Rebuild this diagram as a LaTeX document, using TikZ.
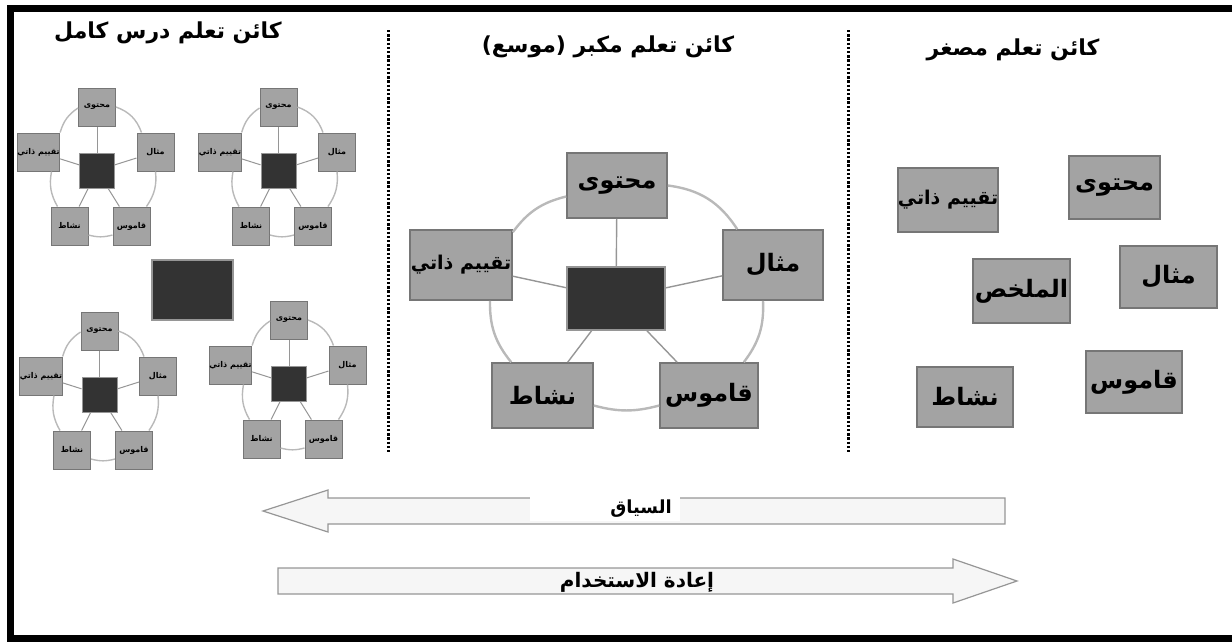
\documentclass[tikz,border=0pt]{standalone}
\usepackage{fontspec}
\TeXXeTstate=1
\newfontfamily\arabicfont[Script=Arabic]{DejaVu Sans}
\usetikzlibrary{calc}
\definecolor{boxgray}{RGB}{163,163,163}
\definecolor{boxedge}{RGB}{118,118,118}
\definecolor{darkbox}{RGB}{51,51,51}
\definecolor{ringgray}{RGB}{185,185,185}
\definecolor{spokegray}{RGB}{150,150,150}
\definecolor{arrowfill}{RGB}{246,246,246}
\definecolor{arrowedge}{RGB}{150,150,150}
\newcommand{\artx}[1]{\beginR #1\endR}
\tikzset{
  bigbox/.style={rectangle, fill=boxgray, draw=boxedge, line width=1.6pt, inner sep=0pt,
    font=\arabicfont\bfseries\fontsize{24}{26}\selectfont},
  smallerlabel/.style={font=\arabicfont\bfseries\fontsize{19}{22}\selectfont},
  bigdark/.style={rectangle, fill=darkbox, draw=spokegray, line width=1.6pt, minimum width=98pt, minimum height=63pt},
  ring/.style={draw=ringgray, line width=2.4pt},
  spoke/.style={draw=spokegray, line width=1.4pt},
  sbox/.style={rectangle, fill=boxgray, draw=boxedge, line width=1pt, inner sep=0pt,
    minimum width=37pt, minimum height=38pt, font=\arabicfont\bfseries\fontsize{8}{9}\selectfont},
  sdark/.style={rectangle, fill=darkbox, draw=spokegray, line width=1pt, minimum width=35pt, minimum height=35pt},
  sring/.style={draw=ringgray, line width=1.4pt},
  sspoke/.style={draw=spokegray, line width=1pt},
  titlefont/.style={font=\arabicfont\bfseries\fontsize{22}{25}\selectfont},
  arrowshape/.style={fill=arrowfill, draw=arrowedge, line width=1.2pt, line join=miter},
  arrowlabel/.style={font=\arabicfont\bfseries\fontsize{18}{20}\selectfont, inner sep=1pt},
  divider/.style={line width=3pt, dash pattern=on 2.4pt off 1.8pt},
  mini/.pic={
    \node[sdark] (-c) at (0,0) {};
    \node[sbox] (-o) at (0,-63.5) {\artx{محتوى}};
    \node[sbox] (-t) at (-58.5,-18.5) {\artx{تقييم ذاتي}};
    \node[sbox] (-m) at (58.5,-18.5) {\artx{مثال}};
    \node[sbox] (-n) at (-27.5,55.5) {\artx{نشاط}};
    \node[sbox] (-q) at (34.5,55.5) {\artx{قاموس}};
    \draw[sspoke] (-c) -- (-o);
    \draw[sspoke] (-c) -- (-t);
    \draw[sspoke] (-c) -- (-m);
    \draw[sspoke] (-c) -- (-n);
    \draw[sspoke] (-c) -- (-q);
    \draw[sring] (-o.east) to[bend left=25] ($(-m.north west)+(5,0)$);
    \draw[sring] (-m.south) to[bend left=20] ($(-q.north east)+(-4,0)$);
    \draw[sring] ($(-q.west)+(0,9)$) to[bend left=15] ($(-n.east)+(0,9)$);
    \draw[sring] ($(-n.north west)+(7,0)$) to[bend left=20] ($(-t.south)+(13,0)$);
    \draw[sring] (-t.north east) to[bend left=20] ($(-o.west)+(0,1)$);
  }
}
\begin{document}
\begin{tikzpicture}[x=1pt,y=-1pt]
\useasboundingbox (0,0) rectangle (1232,641);
\begin{scope}
\clip (0,0) rectangle (1232,641);
\draw[line width=7pt] (10,8.5) rectangle (1245,638);
\end{scope}

% dividers
\coordinate (d1a) at (388,30); \coordinate (d1b) at (388,452);
\coordinate (d2a) at (848,30); \coordinate (d2b) at (848,452);
\draw[divider] (d1a) -- (d1b);
\draw[divider] (d2a) -- (d2b);

% titles
\node[titlefont] (tl) at (168,33) {\artx{كائن تعلم درس كامل}};
\node[titlefont] (tm) at (608,47) {\artx{كائن تعلم مكبر (موسع)}};
\node[titlefont] (tr) at (1013,50) {\artx{كائن تعلم مصغر}};

% left column: full lesson
\pic (A) at (97,170.5) {mini};
\pic (B) at (278.5,170.5) {mini};
\pic (C) at (99.5,394.5) {mini};
\pic (D) at (289,383.5) {mini};
\node[rectangle, fill=darkbox, draw=spokegray, line width=1.6pt, minimum width=81pt, minimum height=60pt] (lc) at (192.5,290) {};

% middle column: enlarged
\node[bigdark] (mc) at (616,298.5) {};
\node[bigbox, minimum width=100pt, minimum height=65pt] (mo) at (617,185.5) {\artx{محتوى}};
\node[bigbox, smallerlabel, minimum width=102pt, minimum height=70pt] (mt) at (461,265) {\artx{تقييم ذاتي}};
\node[bigbox, minimum width=100pt, minimum height=70pt] (mi) at (773,265) {\artx{مثال}};
\node[bigbox, minimum width=101pt, minimum height=65pt] (mn) at (542.5,395.5) {\artx{نشاط}};
\node[bigbox, minimum width=98pt, minimum height=65pt] (mq) at (709,395.5) {\artx{قاموس}};
\draw[spoke] (mc) -- (mo);
\draw[spoke] (mc) -- (mt);
\draw[spoke] (mc) -- (mi);
\draw[spoke] (mc) -- (mn);
\draw[spoke] (mc) -- (mq);
\draw[ring] (mo.east) to[bend left=25] ($(mi.north west)+(15,0)$);
\draw[ring] ($(mi.south)+(-10,0)$) to[bend left=20] ($(mq.north east)+(-15,0)$);
\draw[ring] ($(mq.west)+(0,10)$) to[bend left=15] ($(mn.east)+(0,10)$);
\draw[ring] ($(mn.north west)+(20,0)$) to[bend left=20] ($(mt.south)+(29,0)$);
\draw[ring] ($(mt.north east)+(0,3)$) to[bend left=20] ($(mo.west)+(0,11)$);

% right column: reduced
\node[bigbox, smallerlabel, minimum width=96pt, minimum height=64pt] (rt) at (948,200) {\artx{تقييم ذاتي}};
\node[bigbox, minimum width=91pt, minimum height=63pt] (ro) at (1114.5,187.5) {\artx{محتوى}};
\node[bigbox, minimum width=97pt, minimum height=62pt] (ri) at (1168.5,277) {\artx{مثال}};
\node[bigbox, minimum width=97pt, minimum height=64pt] (rm) at (1021.5,291) {\artx{الملخص}};
\node[bigbox, minimum width=96pt, minimum height=60pt] (rn) at (965,397) {\artx{نشاط}};
\node[bigbox, minimum width=96pt, minimum height=62pt] (rq) at (1134,382) {\artx{قاموس}};

% arrows
\draw[arrowshape] (263,511) -- (328,490) -- (328,498) -- (1005,498) -- (1005,524) -- (328,524) -- (328,532) -- cycle;
\fill[white] (530,497) rectangle (680,521);
\node[arrowlabel] (as) at (641,509) {\artx{السياق}};
\draw[arrowshape] (1017,581) -- (953,559) -- (953,568) -- (278,568) -- (278,594) -- (953,594) -- (953,603) -- cycle;
\node[arrowlabel, font=\arabicfont\bfseries\fontsize{20}{22}\selectfont] (ar) at (637,582) {\artx{إعادة الاستخدام}};
\end{tikzpicture}
\end{document}
